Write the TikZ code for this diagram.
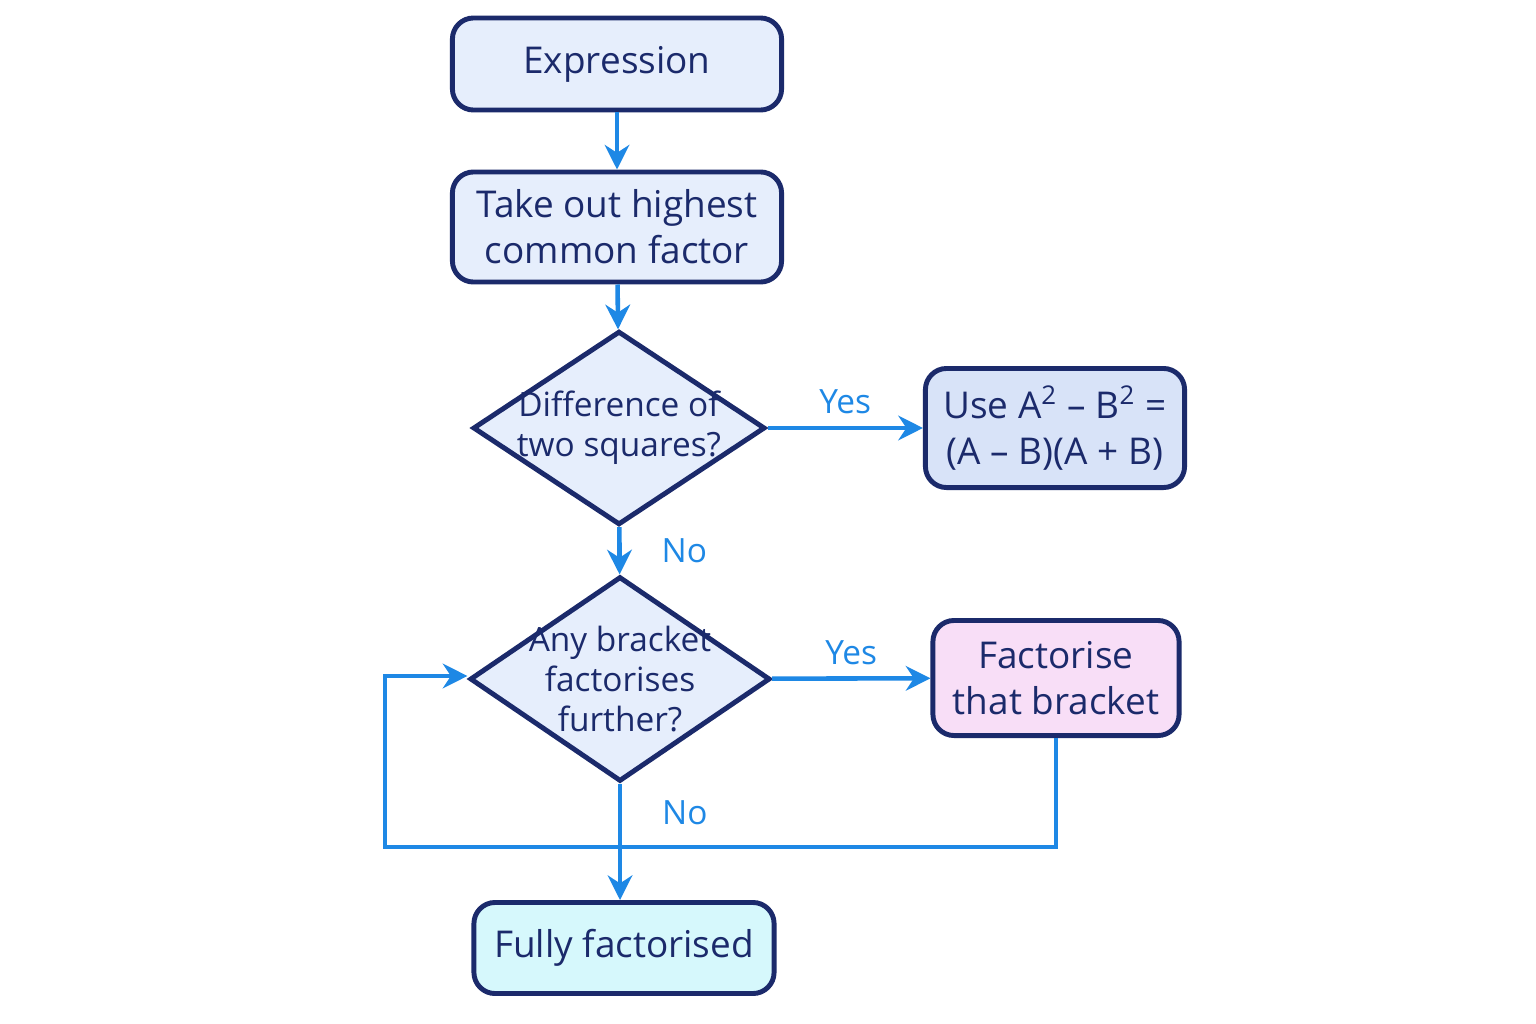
\documentclass[tikz,border=0pt]{standalone}
\usepackage{fontspec}
\setmainfont{Open Sans}
\usetikzlibrary{positioning,shapes.geometric,arrows.meta}
\definecolor{navy}{HTML}{1B2A6B}
\definecolor{flowblue}{HTML}{1E88E5}
\definecolor{boxfill}{HTML}{E6EEFC}
\definecolor{usefill}{HTML}{D8E3F8}
\definecolor{pinkfill}{HTML}{F8DEF7}
\definecolor{cyanfill}{HTML}{D6F8FC}
\tikzset{
  box/.style={rectangle, rounded corners=6pt, draw=navy, line width=1.4pt, fill=boxfill,
    text=navy, align=center, font=\fontsize{10.5pt}{13pt}\selectfont, inner sep=2pt},
  decision/.style={diamond, draw=navy, line width=1.4pt, fill=boxfill, text=navy,
    align=center, font=\fontsize{9.5pt}{11.5pt}\selectfont, inner sep=-6pt},
  flow/.style={draw=flowblue, line width=1.3pt, -{Stealth[length=7pt,width=7pt]}},
  lbl/.style={text=flowblue, font=\fontsize{9.5pt}{11pt}\selectfont}
}
\begin{document}
\begin{tikzpicture}[x=0.01cm, y=-0.01cm]
  \useasboundingbox[fill=white] (0,0) rectangle (1536,1024);
  \node[box, minimum width=3.29cm, minimum height=0.92cm] (expr) at (617,64) {Expression};
  \node[box, minimum width=3.29cm, minimum height=1.10cm] (hcf) at (617,227) {Take out highest\\common factor};
  \node[decision, minimum width=2.92cm, minimum height=1.80cm] (dots) at (619,428) {Difference of\\two squares?};
  \node[box, fill=usefill, minimum width=2.59cm, minimum height=1.19cm] (use) at (1055,428)
    {Use A\textsuperscript{2} – B\textsuperscript{2} =\\(A – B)(A + B)};
  \node[decision, minimum width=3.00cm, minimum height=2.02cm] (any) at (620,679) {Any bracket\\factorises\\further?};
  \node[box, fill=pinkfill, minimum width=2.46cm, minimum height=1.15cm] (fact) at (1056,678) {Factorise\\that bracket};
  \node[box, fill=cyanfill, minimum width=3.00cm, minimum height=0.91cm] (full) at (624,948) {Fully factorised};
  \coordinate (loopa) at (1056,847);
  \coordinate (loopb) at (385,847);
  \coordinate (loopc) at (385,676);

  \draw[flow] (expr) -- (hcf);
  \draw[flow] (hcf) -- (dots);
  \draw[flow] (dots) -- node[lbl, above] {Yes} (use);
  \draw[flow] (dots) -- node[lbl, right=8pt] {No} (any);
  \draw[flow] (any) -- node[lbl, above] {Yes} (fact);
  \draw[flow] (any.south) -- node[lbl, right=8pt, pos=0.25] {No} (full.north -| any.south);
  \draw[flow] (fact.south) -- (loopa) -- (loopb) -- (loopc) -- (any.west |- loopc);
\end{tikzpicture}
\end{document}
